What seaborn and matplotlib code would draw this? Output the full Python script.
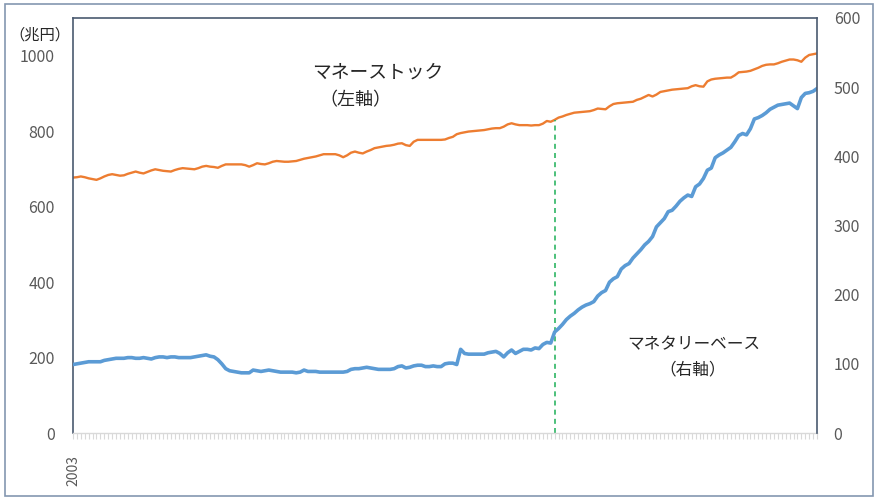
import numpy as np
import pandas as pd
import matplotlib
matplotlib.use("Agg")
import matplotlib.pyplot as plt
import matplotlib.patches as patches
import seaborn as sns

# ----------------------------
# Data (trillion yen, monthly, 2003/01 - 2018/11)
# ----------------------------
money_stock = [
    677, 678, 680, 678, 675, 673, 671, 675, 680, 684, 686, 684,   # 2003
    682, 683, 687, 690, 693, 690, 688, 692, 696, 699, 697, 695,   # 2004
    694, 693, 697, 700, 702, 701, 700, 699, 702, 706, 708, 706,   # 2005
    705, 703, 708, 712, 712, 712, 712, 712, 710, 706, 710, 715,   # 2006
    713, 712, 715, 719, 721, 720, 719, 719, 720, 721, 724, 727,   # 2007
    729, 731, 733, 736, 739, 739, 739, 739, 736, 731, 736, 743,   # 2008
    746, 743, 741, 746, 750, 755, 757, 759, 761, 762, 764, 767,   # 2009
    768, 763, 761, 772, 777, 777, 777, 777, 777, 777, 777, 778,   # 2010
    782, 785, 792, 795, 797, 799, 800, 801, 802, 803, 805, 807,   # 2011
    808, 808, 812, 818, 821, 818, 816, 816, 816, 815, 816, 816,   # 2012
    820, 827, 825, 830, 836, 839, 843, 846, 849, 850, 851, 852,   # 2013
    853, 856, 860, 859, 858, 866, 872, 874, 875, 876, 877, 878,   # 2014
    883, 886, 891, 896, 892, 897, 904, 906, 908, 910, 911, 912,   # 2015
    913, 914, 919, 922, 919, 918, 932, 937, 939, 940, 941, 942,   # 2016
    942, 948, 956, 957, 958, 960, 964, 968, 973, 976, 977, 977,   # 2017
    980, 984, 987, 990, 990, 988, 984, 995, 1002, 1004, 1006,     # 2018
]

monetary_base = [
    99, 100, 101, 102, 103, 103, 103, 103, 105, 106, 107, 108,    # 2003
    108, 108, 109, 109, 108, 108, 109, 108, 107, 109, 110, 110,   # 2004
    109, 110, 110, 109, 109, 109, 109, 110, 111, 112, 113, 111,   # 2005
    110, 106, 100, 93, 90, 89, 88, 87, 87, 87, 91, 90,            # 2006
    89, 90, 91, 90, 89, 88, 88, 88, 88, 87, 88, 91,               # 2007
    89, 89, 89, 88, 88, 88, 88, 88, 88, 88, 89, 92,               # 2008
    93, 93, 94, 95, 94, 93, 92, 92, 92, 92, 93, 96,               # 2009
    97, 94, 95, 97, 98, 98, 96, 96, 97, 96, 96, 100,              # 2010
    101, 101, 99, 121, 115, 114, 114, 114, 114, 114, 116, 117,    # 2011
    118, 115, 110, 116, 120, 115, 118, 121, 121, 120, 123, 122,   # 2012
    128, 131, 130, 146, 151, 157, 164, 169, 173, 178, 182, 185,   # 2013
    187, 190, 198, 203, 206, 218, 223, 226, 237, 242, 245, 253,   # 2014
    259, 265, 272, 277, 284, 298, 304, 310, 320, 322, 328, 335,   # 2015
    340, 344, 342, 356, 360, 368, 380, 383, 398, 402, 405, 409,   # 2016
    413, 421, 430, 433, 431, 440, 454, 456, 459, 463, 468, 471,   # 2017
    474, 475, 476, 477, 473, 469, 485, 491, 492, 494, 498,        # 2018
]

months = pd.date_range("2003-01-01", periods=len(money_stock), freq="MS")
marker_month = pd.Timestamp("2013-04-01")
left_ticks = [0, 200, 400, 600, 800, 1000]
right_ticks = [0, 100, 200, 300, 400, 500, 600]

df = pd.DataFrame({
    "idx": np.arange(len(months)),
    "money_stock": money_stock,
    "monetary_base": monetary_base,
})

# ----------------------------
# Style
# ----------------------------
sns.set_style("white")
plt.rcParams['font.family'] = ['Noto Sans CJK JP', 'DejaVu Sans']

orange = "#ED7D31"
blue = "#5B9BD5"
green = "#2DB563"
spine_col = "#4A5A70"
grid_gray = "#D9D9D9"
label_gray = "#595959"
text_col = "#262626"

fig = plt.figure(figsize=(8.76, 4.98), dpi=100)
ax = fig.add_axes([73/876, 1 - 433/498, (817-73)/876, (433-18)/498])
ax2 = ax.twinx()

sns.lineplot(data=df, x="idx", y="money_stock", ax=ax, color=orange, linewidth=1.7)
sns.lineplot(data=df, x="idx", y="monetary_base", ax=ax2, color=blue, linewidth=2.6)

# dashed marker line
m_idx = int(np.where(months == marker_month)[0][0])
ax.vlines(m_idx, 0, money_stock[m_idx], colors=green, linestyles=(0, (3, 2.5)), linewidth=1.2)

ax.set_xlim(0, len(months) - 1)
ax.set_ylim(0, 1100)
ax2.set_ylim(0, 600)
ax.set_yticks(left_ticks)
ax2.set_yticks(right_ticks)
ax.set_xticks(df["idx"])
ax.set_xticklabels([str(months[0].year)] + [""] * (len(months) - 1), rotation=90)
ax.set_xlabel("")
ax.set_ylabel("")
ax2.set_ylabel("")

ax.tick_params(axis="x", bottom=True, length=4, width=0.8, color=grid_gray, direction="out",
               pad=12, labelsize=10, labelcolor=label_gray)
ax2.tick_params(axis="x", bottom=False, top=False)
ax.tick_params(axis="y", length=0, pad=13, labelsize=11.5, labelcolor=label_gray)
ax2.tick_params(axis="y", length=0, pad=12, labelsize=11.5, labelcolor=label_gray)

for a in (ax, ax2):
    for s in a.spines.values():
        s.set_visible(False)
ax.spines["left"].set_visible(True)
ax.spines["top"].set_visible(True)
ax2.spines["right"].set_visible(True)
for s in (ax.spines["left"], ax.spines["top"], ax2.spines["right"]):
    s.set_color(spine_col)
    s.set_linewidth(1.2)
ax.spines["bottom"].set_visible(True)
ax.spines["bottom"].set_color(grid_gray)
ax.spines["bottom"].set_linewidth(1.0)

# annotations
ax.text(0.409, 0.870, "マネーストック", transform=ax.transAxes, ha="center", va="center",
        fontsize=13.5, color=text_col)
ax.text(0.380, 0.802, "（左軸）", transform=ax.transAxes, ha="center", va="center",
        fontsize=13, color=text_col)
ax2.text(0.834, 0.212, "マネタリーベース", transform=ax2.transAxes, ha="center", va="center",
         fontsize=12, color=text_col)
ax2.text(0.833, 0.152, "（右軸）", transform=ax2.transAxes, ha="center", va="center",
         fontsize=12, color=text_col)
fig.text(40/876, 1 - 35/498, "（兆円）", ha="center", va="center", fontsize=11, color=text_col)

# outer frame
fig.add_artist(patches.Rectangle((5/876, 2/498), 868/876, 492/498, transform=fig.transFigure,
                                 fill=False, edgecolor="#8497B0", linewidth=1.2))

fig.savefig("out.png", dpi=100)
